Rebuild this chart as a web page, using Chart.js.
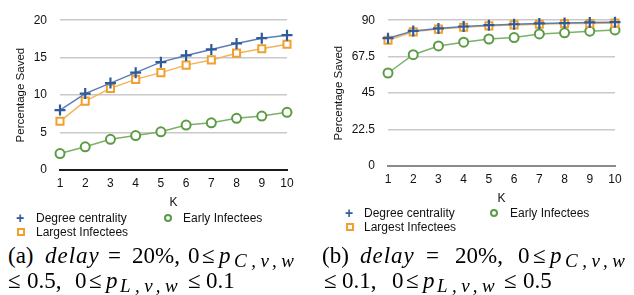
<!DOCTYPE html>
<html lang="en">
<head>
<meta charset="UTF-8" />
<title>Percentage Saved vs K</title>
<script src="https://cdn.jsdelivr.net/npm/chart.js"></script>
<style>
    body {
        margin: 0;
        width: 634px;
        height: 295px;
        background: #fff;
        position: relative;
        overflow: hidden;
        font-family: "Liberation Sans", Arial, sans-serif;
    }
    .box {
        position: absolute;
    }
    .legend__item {
        position: absolute;
        font-size: 12px;
        color: #111;
        line-height: 14px;
        white-space: nowrap;
    }
    .mark {
        position: absolute;
        box-sizing: border-box;
    }
    /* caption tokens, placed one by one like the typeset math */
    .tok {
        position: absolute;
        font-family: "Liberation Serif", "Times New Roman", serif;
        font-size: 23px;
        line-height: 23px;
        color: #000;
        white-space: nowrap;
    }
    .it { font-style: italic; }
    .sub {
        font-size: 19px;
        line-height: 19px;
        font-style: italic;
        letter-spacing: 4.5px;
    }
</style>
</head>
<body>

<div class="box" style="left:0;top:0;width:300px;height:210px"><canvas id="chartA"></canvas></div>
<div class="box" style="left:328px;top:0;width:300px;height:206px"><canvas id="chartB"></canvas></div>

<!-- legend (a) -->
<div class="legend__item" style="left:16px;top:211px;color:#2f5b9b;font-size:14px;font-weight:bold">+</div>
<div class="legend__item" style="left:36px;top:211px">Degree centrality</div>
<div class="mark" style="left:164px;top:214px;width:8px;height:8px;border:2px solid #5b9c45;border-radius:50%"></div>
<div class="legend__item" style="left:183px;top:211px">Early Infectees</div>
<div class="mark" style="left:17px;top:228px;width:8px;height:8px;border:2px solid #f0a030"></div>
<div class="legend__item" style="left:36px;top:225px">Largest Infectees</div>

<!-- legend (b) -->
<div class="legend__item" style="left:345px;top:206px;color:#2f5b9b;font-size:14px;font-weight:bold">+</div>
<div class="legend__item" style="left:364px;top:206px">Degree centrality</div>
<div class="mark" style="left:490px;top:209px;width:8px;height:8px;border:2px solid #5b9c45;border-radius:50%"></div>
<div class="legend__item" style="left:510px;top:206px">Early Infectees</div>
<div class="mark" style="left:346px;top:223px;width:8px;height:8px;border:2px solid #f0a030"></div>
<div class="legend__item" style="left:364px;top:220px">Largest Infectees</div>

<!-- caption (a) -->
<span class="tok" style="left:8px;top:244px">(a)</span>
<span class="tok it" style="left:45px;top:244px;letter-spacing:1px">delay</span>
<span class="tok" style="left:108px;top:244px">=</span>
<span class="tok" style="left:132px;top:244px">20%,</span>
<span class="tok" style="left:188px;top:244px">0</span>
<span class="tok" style="left:202px;top:244px">≤</span>
<span class="tok it" style="left:219px;top:244px">p</span>
<span class="tok sub" style="left:234px;top:251px">C,v,w</span>

<span class="tok" style="left:8px;top:269px">≤</span>
<span class="tok" style="left:27px;top:269px">0.5,</span>
<span class="tok" style="left:75px;top:269px">0</span>
<span class="tok" style="left:89px;top:269px">≤</span>
<span class="tok it" style="left:106px;top:269px">p</span>
<span class="tok sub" style="left:120px;top:276px">L,v,w</span>
<span class="tok" style="left:188px;top:269px">≤</span>
<span class="tok" style="left:206px;top:269px">0.1</span>

<!-- caption (b) -->
<span class="tok" style="left:322px;top:244px">(b)</span>
<span class="tok it" style="left:360px;top:244px;letter-spacing:1px">delay</span>
<span class="tok" style="left:426px;top:244px">=</span>
<span class="tok" style="left:455px;top:244px">20%,</span>
<span class="tok" style="left:518px;top:244px">0</span>
<span class="tok" style="left:533px;top:244px">≤</span>
<span class="tok it" style="left:550px;top:244px">p</span>
<span class="tok sub" style="left:565px;top:251px">C,v,w</span>

<span class="tok" style="left:324px;top:269px">≤</span>
<span class="tok" style="left:342px;top:269px">0.1,</span>
<span class="tok" style="left:392px;top:269px">0</span>
<span class="tok" style="left:406px;top:269px">≤</span>
<span class="tok it" style="left:423px;top:269px">p</span>
<span class="tok sub" style="left:437px;top:276px">L,v,w</span>
<span class="tok" style="left:504px;top:269px">≤</span>
<span class="tok" style="left:523px;top:269px">0.5</span>

<script>
    // K values on the x axis
    const kLabels = ["1", "2", "3", "4", "5", "6", "7", "8", "9", "10"];

    // (a) values
    const degreeA  = [8.0, 10.2, 11.6, 13.0, 14.4, 15.3, 16.1, 16.9, 17.6, 18.0];
    const largestA = [6.5, 9.2, 10.9, 12.1, 13.0, 14.0, 14.7, 15.6, 16.2, 16.8];
    const earlyA   = [2.2, 3.1, 4.1, 4.6, 5.1, 6.0, 6.3, 6.9, 7.2, 7.7];
    const ticksA   = [0, 5, 10, 15, 20];

    // (b) values
    const degreeB  = [78.9, 83.4, 84.9, 86.1, 86.9, 87.5, 88.0, 88.2, 88.6, 88.8];
    const largestB = [77.6, 82.8, 84.5, 85.7, 86.5, 87.1, 87.5, 87.9, 88.0, 88.2];
    const earlyB   = [57.4, 68.7, 74.1, 76.4, 78.4, 79.3, 81.5, 82.2, 83.2, 84.0];
    const ticksB   = [0, 22.5, 45, 67.5, 90];

    const blue = "#2f5b9b";
    const orange = "#f0a030";
    const green = "#5b9c45";

    function makeChart(id, degree, largest, early, ticks, zeroColor, titlePad) {
        const data = {
            labels: kLabels,
            datasets: [
                {
                    label: "Degree centrality",
                    data: degree,
                    borderColor: "#5b7db5",
                    borderWidth: 1.5,
                    pointStyle: "cross",
                    pointRadius: 5.5,
                    pointBorderColor: blue,
                    pointBorderWidth: 2.2,
                    clip: false,
                },
                {
                    label: "Largest Infectees",
                    data: largest,
                    borderColor: "#f3b35a",
                    borderWidth: 1.5,
                    pointStyle: "rect",
                    pointRadius: 5,
                    pointBorderColor: orange,
                    pointBackgroundColor: "#fff",
                    pointBorderWidth: 2,
                    clip: false,
                },
                {
                    label: "Early Infectees",
                    data: early,
                    borderColor: "#7cb068",
                    borderWidth: 1.5,
                    pointStyle: "circle",
                    pointRadius: 4.5,
                    pointBorderColor: green,
                    pointBackgroundColor: "#fff",
                    pointBorderWidth: 2,
                    clip: false,
                },
            ],
        };

        const config = {
            type: "line",
            data: data,
            options: {
                responsive: true,
                maintainAspectRatio: false,
                animation: false,
                layout: { padding: { top: id === "chartA" ? 15 : 11, right: 13, left: 0, bottom: 0 } },
                plugins: { legend: { display: false }, tooltip: { enabled: false } },
                scales: {
                    x: {
                        offset: false,
                        grid: { display: false, drawTicks: false },
                        border: { display: true, color: zeroColor, width: 2 },
                        ticks: { color: "#111", padding: 6, font: { family: "Liberation Sans", size: 12 } },
                        title: { display: true, text: "K", color: "#111", padding: { top: 0, bottom: 0 }, font: { family: "Liberation Sans", size: 12 } },
                        afterFit: function (scale) { scale.height = 40; },
                    },
                    y: {
                        min: ticks[0],
                        max: ticks[ticks.length - 1],
                        afterBuildTicks: function (scale) {
                            scale.ticks = ticks.map(function (v) { return { value: v }; });
                        },
                        grid: {
                            drawTicks: false,
                            color: function (ctx) { return ctx.tick && ctx.tick.value === 0 ? "rgba(0,0,0,0)" : "#c9c9c9"; },
                            lineWidth: 1.5,
                        },
                        border: { display: false },
                        ticks: {
                            color: "#111",
                            padding: 13,
                            font: { family: "Liberation Sans", size: 12 },
                            callback: function (v) { return String(v); },
                        },
                        title: { display: true, text: "Percentage Saved", color: "#111", padding: { top: titlePad, bottom: 0 }, font: { family: "Liberation Sans", size: 11.5 } },
                        afterFit: function (scale) { scale.width = 60; },
                    },
                },
            },
        };

        return new Chart(document.getElementById(id), config);
    }

    const chartA = makeChart("chartA", degreeA, largestA, earlyA, ticksA, "#1a1a1a", 13.5);
    const chartB = makeChart("chartB", degreeB, largestB, earlyB, ticksB, "#8a8a8a", 4);
</script>
</body>
</html>
